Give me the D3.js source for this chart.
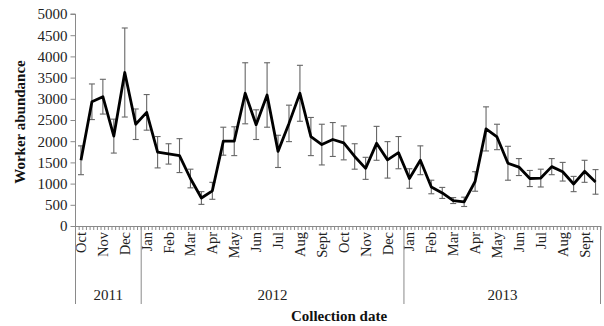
<!DOCTYPE html>
<html><head><meta charset="utf-8">
<script src="https://cdn.jsdelivr.net/npm/d3@7"></script>
<style>body{margin:0;background:#fff}svg{display:block}</style>
</head><body>
<svg id="c" width="604" height="326"></svg>
<script>
const monthLabels = ["Oct","","Nov","","Dec","",
 "Jan","","Feb","","Mar","","Apr","","May","","Jun","","Jul","","Aug","","Sept","","Oct","","Nov","","Dec","",
 "Jan","","Feb","","Mar","","Apr","","May","","Jun","","Jul","","Aug","","Sept",""];
const values = [1550,2930,3050,2120,3620,2400,2680,1740,1700,1660,1120,660,830,2000,2000,3130,2390,3090,1760,2420,3130,2110,1920,2040,1960,1640,1360,1950,1560,1730,1120,1550,920,780,600,570,1050,2290,2100,1480,1390,1120,1130,1400,1280,990,1290,1040];
const errors = [340,420,410,400,1050,360,420,370,240,400,220,150,200,330,340,720,350,760,380,430,660,450,480,400,400,300,260,400,430,380,230,340,160,130,70,110,230,520,300,400,200,190,210,190,220,180,260,290];
const years = ["2011","2012","2013"];
const yearStart = [0,6,30];
const yearEnd = [6,30,48];
const yTicks = [0,500,1000,1500,2000,2500,3000,3500,4000,4500,5000];

const svg = d3.select("#c");
const serif = "'Liberation Serif','Times New Roman',serif";
const idx = d3.range(values.length);
const x = d3.scaleBand().domain(idx).range([75.5, 601]).padding(0);
const y = d3.scaleLinear().domain([0,5000]).range([226,14]);
const bw = x.bandwidth();
const cx = i => x(i) + bw/2;
const axisCol = "#8a8a8a";

// y axis
const ya = svg.append("g").attr("transform","translate(75.5,0)")
  .call(d3.axisLeft(y).tickValues(yTicks).tickSize(5).tickPadding(3).tickFormat(d3.format("d")));
ya.selectAll("path,line").attr("stroke",axisCol);
ya.select(".domain").attr("d", `M-5,${y(5000)}H0V${y(0)}`);
ya.selectAll("text").attr("font-family",serif).attr("font-size",15).attr("fill","#222");

// x axis baseline + minor ticks
svg.append("line").attr("x1",75.5).attr("x2",601).attr("y1",y(0)+0.5).attr("y2",y(0)+0.5).attr("stroke",axisCol);
const minor = d3.range(0, values.length*3+1);
svg.append("g").selectAll("line").data(minor).join("line")
  .attr("x1",k=>75.5+k*bw/3).attr("x2",k=>75.5+k*bw/3)
  .attr("y1",y(0)).attr("y2",y(0)+4).attr("stroke",axisCol);

// month labels
svg.append("g").selectAll("text").data(idx.filter(i=>monthLabels[i]!=="")).join("text")
  .attr("transform",i=>`translate(${cx(i)+5},${y(0)+6}) rotate(-90)`)
  .attr("text-anchor","end").attr("font-family",serif).attr("font-size",14.5).attr("fill","#222")
  .text(i=>monthLabels[i]);

// year separators and labels
const seps = [yearStart[0], ...yearEnd];
svg.append("g").selectAll("line").data(seps).join("line")
  .attr("x1",i=> i===0?75.5:(i>=values.length?600.5:x(i))).attr("x2",i=> i===0?75.5:(i>=values.length?600.5:x(i)))
  .attr("y1",y(0)).attr("y2",304).attr("stroke",axisCol);
svg.append("g").selectAll("text").data(years).join("text")
  .attr("x",(d,j)=>(x(yearStart[j]) + (yearEnd[j]>=values.length?601:x(yearEnd[j])))/2)
  .attr("y",300).attr("text-anchor","middle").attr("font-family",serif).attr("font-size",15).attr("fill","#222")
  .text(d=>d);

// error bars
const eb = svg.append("g").attr("stroke","#666").attr("stroke-width",1.1);
idx.forEach(i=>{
  const xc = cx(i), t = y(values[i]+errors[i]), b = y(Math.max(0,values[i]-errors[i]));
  eb.append("line").attr("x1",xc).attr("x2",xc).attr("y1",t).attr("y2",b);
  eb.append("line").attr("x1",xc-3).attr("x2",xc+3).attr("y1",t).attr("y2",t);
  eb.append("line").attr("x1",xc-3).attr("x2",xc+3).attr("y1",b).attr("y2",b);
});

// line
svg.append("path").datum(idx)
  .attr("d", d3.line().x(i=>cx(i)).y(i=>y(values[i])))
  .attr("fill","none").attr("stroke","#000").attr("stroke-width",2.8).attr("stroke-linejoin","round");

// axis titles
svg.append("text").attr("x",339).attr("y",321).attr("text-anchor","middle")
  .attr("font-family",serif).attr("font-weight","bold").attr("font-size",15).attr("fill","#111")
  .text("Collection date");
svg.append("text").attr("transform","translate(25,122) rotate(-90)").attr("text-anchor","middle")
  .attr("font-family",serif).attr("font-weight","bold").attr("font-size",15).attr("fill","#111")
  .text("Worker abundance");
</script>
</body></html>
